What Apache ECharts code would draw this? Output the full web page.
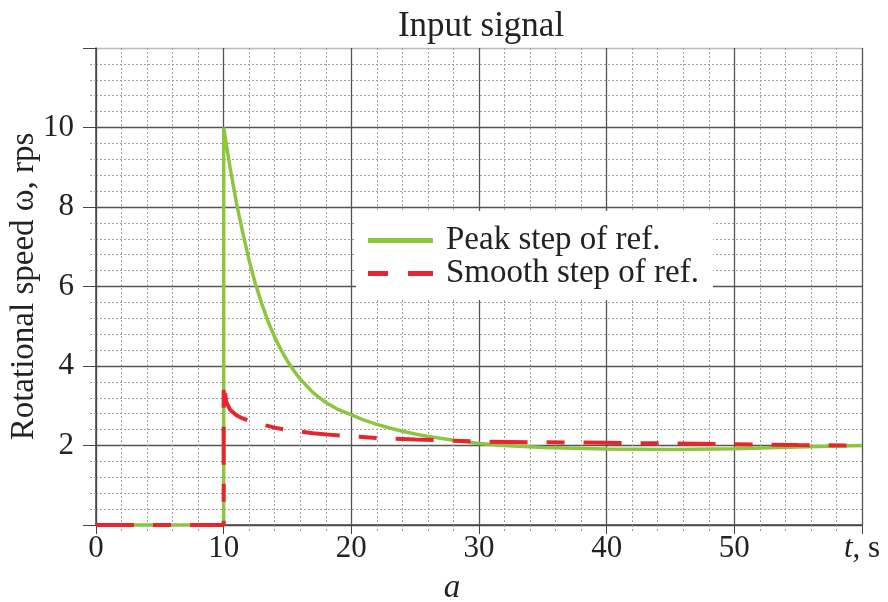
<!DOCTYPE html>
<html>
<head>
<meta charset="utf-8">
<script src="https://cdn.jsdelivr.net/npm/echarts@6/dist/echarts.min.js"></script>
<style>
  html, body { margin: 0; padding: 0; background: #fff; }
  #chart { width: 888px; height: 602px; }
</style>
</head>
<body>
<div id="chart"></div>
<script>
// t, s  /  omega, rps
const peakStep = [
  [0, 0], [10, 0], [10, 10], [10.25, 9.5], [10.5, 9.0], [10.75, 8.55],
  [11, 8.1], [11.5, 7.35], [12, 6.65], [12.5, 6.05], [13, 5.55], [13.5, 5.1],
  [14, 4.72], [14.5, 4.4], [15, 4.12], [15.5, 3.88], [16, 3.67], [17, 3.33],
  [18, 3.08], [19, 2.9], [20, 2.77], [21, 2.64], [22, 2.53], [23, 2.44],
  [24, 2.36], [25, 2.29], [26, 2.23], [28, 2.13], [30, 2.05], [32, 2.0],
  [35, 1.95], [40, 1.91], [45, 1.9], [50, 1.92], [55, 1.96], [60, 2.0]
]
const smoothStep = [
  [0, 0], [10, 0], [10, 3.6], [10.2, 3.1], [10.5, 2.9], [11, 2.76],
  [11.5, 2.68], [12, 2.62], [13, 2.53], [14, 2.45], [15, 2.39], [16, 2.35],
  [17, 2.31], [18, 2.28], [20, 2.23], [22, 2.19], [25, 2.15], [30, 2.1],
  [35, 2.08], [40, 2.07], [45, 2.05], [50, 2.03], [55, 2.01], [60, 2.0]
]
const seriesNames = ['Peak step of ref.', 'Smooth step of ref.']

const serif = 'Liberation Serif'
const green = '#8cc63f'
const red = '#e8242f'
const chart = echarts.init(document.getElementById('chart'))

const option = {
  animation: false,
  title: [
    {
      text: 'Input signal',
      left: 476, top: 4, textAlign: 'center',
      textStyle: { fontFamily: serif, fontSize: 35, fontWeight: 'normal', color: '#222' }
    },
    {
      text: 'a',
      left: 447, top: 567, textAlign: 'center',
      textStyle: { fontFamily: serif, fontSize: 33, fontStyle: 'italic', fontWeight: 'normal', color: '#222' }
    }
  ],
  grid: { left: 96, right: 26, top: 48, bottom: 77, containLabel: false, outerBoundsMode: 'none' },
  legend: {
    data: [
      { name: seriesNames[0], icon: 'path://M0,0H65V5H0Z' },
      { name: seriesNames[1], icon: 'path://M0,0H20V5H0Z M40,0H65V5H40Z' }
    ],
    orient: 'vertical',
    left: 356, top: 211,
    padding: [13, 14, 10, 12],
    itemGap: 0,
    itemWidth: 65,
    itemHeight: 5,
    backgroundColor: '#fff',
    textStyle: { fontFamily: serif, fontSize: 33, lineHeight: 31, color: '#222', padding: [0, 0, 0, 8] }
  },
  xAxis: {
    type: 'value', min: 0, max: 60, interval: 10,
    axisLine: { lineStyle: { color: '#444', width: 1.5 } },
    axisTick: { show: true, length: 9, lineStyle: { color: '#444' } },
    minorTick: { show: true, splitNumber: 5, length: 6, lineStyle: { color: '#999', type: [2, 2] } },
    splitLine: { show: true, lineStyle: { color: '#555', width: 1.3 } },
    minorSplitLine: { show: true, lineStyle: { color: '#a0a0a0', type: [2, 2] } },
    axisLabel: {
      fontFamily: serif, fontSize: 31, color: '#222', margin: 8,
      formatter: v => v === 60 ? '{i|t}, s' : String(v),
      rich: { i: { fontFamily: serif, fontSize: 31, fontStyle: 'italic', color: '#222' } }
    }
  },
  yAxis: {
    type: 'value', min: 0, max: 12, interval: 2,
    name: 'Rotational speed ω, rps',
    nameLocation: 'middle', nameGap: 55, nameMoveOverlap: false,
    nameTextStyle: { fontFamily: serif, fontSize: 33, color: '#222' },
    axisLine: { show: true, lineStyle: { color: '#444', width: 1.5 } },
    axisTick: { show: true, length: 13, lineStyle: { color: '#444' } },
    minorTick: { show: true, splitNumber: 5, length: 8, lineStyle: { color: '#999', type: [2, 2] } },
    splitLine: { show: true, lineStyle: { color: ['#555', '#555', '#555', '#555', '#555', '#555', '#bbb'], width: 1.3 } },
    minorSplitLine: { show: true, lineStyle: { color: '#a0a0a0', type: [2, 2] } },
    axisLabel: {
      fontFamily: serif, fontSize: 31, color: '#222', margin: 22,
      formatter: v => (v === 0 || v === 12) ? '' : String(v)
    }
  },
  series: [
    {
      name: seriesNames[0],
      type: 'line',
      data: peakStep,
      showSymbol: false, symbol: 'none',
      lineStyle: { color: green, width: 3.5 },
      itemStyle: { color: green }
    },
    {
      name: seriesNames[1],
      type: 'line',
      data: smoothStep,
      showSymbol: false, symbol: 'none',
      lineStyle: { color: red, width: 4, type: [38, 19, 18, 19] },
      itemStyle: { color: red }
    }
  ]
}

chart.setOption(option)

window.addEventListener('resize', () => {
  chart.resize()
})
</script>
</body>
</html>
